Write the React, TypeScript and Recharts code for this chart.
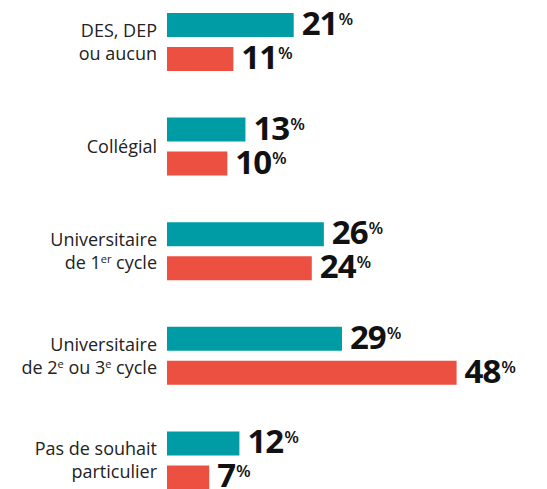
import React from "react";
import { BarChart, Bar, XAxis, YAxis, LabelList } from "recharts";

// Niveau de scolarité souhaité (libellés, ^ = exposant)
const categories = [
  "DES, DEP\nou aucun",
  "Collégial",
  "Universitaire\nde 1^er cycle",
  "Universitaire\nde 2^e ou 3^e cycle",
  "Pas de souhait\nparticulier",
];
const serieA = [21, 13, 26, 29, 12];
const serieB = [11, 10, 24, 48, 7];

const data = categories.map((c, i) => ({ cat: c, a: serieA[i], b: serieB[i] }));

const TEAL = "#009ca6";
const RED = "#eb5040";

function renderLine(line: string) {
  // split "de 1^er cycle" -> ["de 1", "^er", " cycle"]
  const parts = line.split(/(\^[a-z]+)/).filter((p) => p !== "");
  const out: React.ReactNode[] = [];
  let up = false;
  parts.forEach((p, i) => {
    if (p.startsWith("^")) {
      out.push(
        <tspan key={i} fontSize={11} dy={-6}>
          {p.slice(1)}
        </tspan>
      );
      up = true;
    } else {
      out.push(
        <tspan key={i} dy={up ? 6 : 0}>
          {p}
        </tspan>
      );
      up = false;
    }
  });
  return out;
}

function CategoryTick(props: any) {
  const { x, y, payload } = props;
  const lines = String(payload.value).split("\n");
  const lh = 23;
  const first = y + 6 - ((lines.length - 1) * lh) / 2;
  return (
    <g>
      {lines.map((l, i) => (
        <text
          key={i}
          x={x}
          y={first + i * lh}
          textAnchor="end"
          fontFamily="Open Sans"
          fontSize={18}
          fill="#222"
        >
          {renderLine(l)}
        </text>
      ))}
    </g>
  );
}

function ValueLabel(props: any) {
  const { x, y, width, height, value } = props;
  const tx = Number(x) + Number(width) + 8;
  const ty = Number(y) + Number(height) / 2 + 10;
  return (
    <text
      x={tx}
      y={ty}
      fontFamily="Open Sans"
      fontWeight={700}
      fontSize={33}
      letterSpacing={-1}
      fill="#111"
    >
      {value}
      <tspan fontSize={17} fontWeight={600} letterSpacing={0} dx={1} dy={-10}>
        %
      </tspan>
    </text>
  );
}

export default function App() {
  return (
    <div
      style={{
        position: "absolute",
        left: 0,
        top: 0,
        width: 547,
        height: 489,
        overflow: "hidden",
        background: "#fff",
      }}
    >
      <div style={{ position: "absolute", left: 0, top: -10 }}>
        <BarChart
          width={547}
          height={523}
          data={data}
          layout="vertical"
          margin={{ top: 0, right: 18, bottom: 0, left: 0 }}
          barSize={24}
          barGap={10}
        >
          <XAxis type="number" domain={[0, 60]} hide />
          <YAxis
            type="category"
            dataKey="cat"
            width={167}
            axisLine={false}
            tickLine={false}
            tickSize={0}
            tickMargin={10}
            tick={<CategoryTick />}
            interval={0}
          />
          <Bar dataKey="a" fill={TEAL} isAnimationActive={false}>
            <LabelList dataKey="a" content={<ValueLabel />} />
          </Bar>
          <Bar dataKey="b" fill={RED} isAnimationActive={false}>
            <LabelList dataKey="b" content={<ValueLabel />} />
          </Bar>
        </BarChart>
      </div>
    </div>
  );
}
